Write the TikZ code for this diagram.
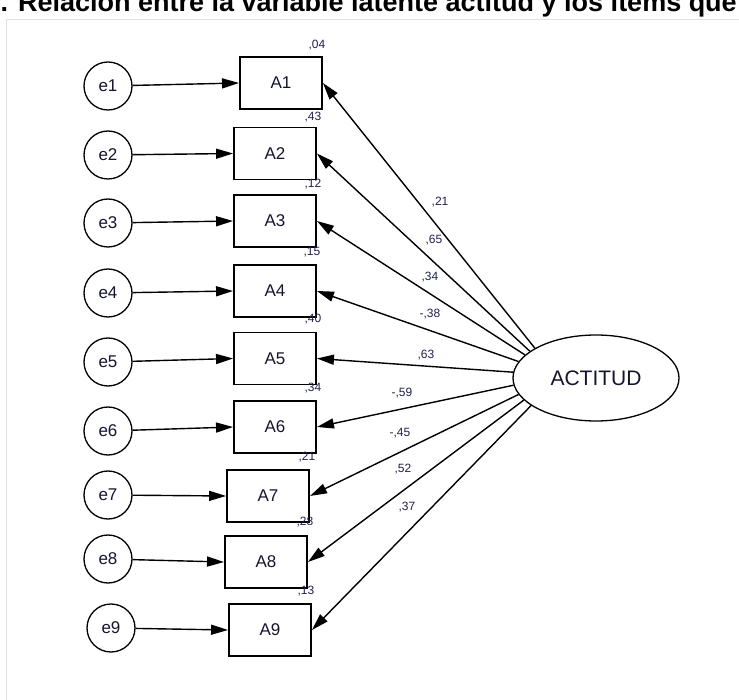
\documentclass[tikz,border=0pt]{standalone}
\usepackage{fontspec}
\setmainfont{Liberation Sans}
\usetikzlibrary{arrows.meta,shapes.geometric}
\definecolor{numc}{HTML}{202050}
\definecolor{txtc}{HTML}{151530}
\begin{document}
\begin{tikzpicture}[x=1pt,y=-1pt,
  lat/.style={draw,line width=1.3pt,circle,minimum size=48pt,inner sep=0pt,text=txtc,font=\fontsize{17}{20}\selectfont},
  obs/.style={draw,line width=1.9pt,rectangle,minimum width=82pt,minimum height=52pt,inner sep=0pt,text=txtc,font=\fontsize{17}{20}\selectfont},
  fac/.style={draw,line width=1.3pt,ellipse,minimum width=166pt,minimum height=86pt,inner sep=0pt,text=txtc,font=\fontsize{21}{24}\selectfont},
  arr/.style={line width=1.4pt,-{Triangle[length=17pt,width=10pt]}},
  num/.style={font=\fontsize{12}{14}\selectfont,inner sep=0pt,text=numc},
]
\useasboundingbox (0,0) rectangle (739,700);
\clip (0,0) rectangle (739,700);
\fill[white] (0,0) rectangle (739,700);
% title (cut off at top)
\node[anchor=base east,inner sep=0pt,font=\bfseries\fontsize{27}{30}\selectfont] (title) at (737,12) {1. Relación entre la variable latente actitud y los ítems que};
% frame
\draw[black!12,line width=1pt] (6,705) -- (6,20) -- (745,20);

% error terms
\node[lat] (e1) at (108,86) {e1};
\node[lat] (e2) at (108,155) {e2};
\node[lat] (e3) at (108,223) {e3};
\node[lat] (e4) at (108,293) {e4};
\node[lat] (e5) at (108,362) {e5};
\node[lat] (e6) at (108,431) {e6};
\node[lat] (e7) at (108,495) {e7};
\node[lat] (e8) at (108,559) {e8};
\node[lat] (e9) at (111,628) {e9};

% items
\node[obs] (A1) at (281,83) {A1};
\node[obs] (A2) at (275,153.5) {A2};
\node[obs] (A3) at (275,221) {A3};
\node[obs] (A4) at (275,291) {A4};
\node[obs] (A5) at (275,358.5) {A5};
\node[obs] (A6) at (275,427) {A6};
\node[obs] (A7) at (268,496) {A7};
\node[obs] (A8) at (266,562) {A8};
\node[obs] (A9) at (270,630) {A9};

% latent factor
\node[fac] (act) at (596,378) {ACTITUD};

% error arrows
\foreach \i in {1,...,9} \draw[arr] (e\i) -- (A\i.west);

% loading arrows
\draw[arr] (act.154) -- (A1.east);
\draw[arr] (act.158) -- (A2.east);
\draw[arr] (act.162) -- (A3.east);
\draw[arr] (act.168) -- (A4.east);
\draw[arr] (act.176) -- (A5.east);
\draw[arr] (act.185) -- (A6.east);
\draw[arr] (act.192) -- (A7.east);
\draw[arr] (act.197) -- (A8.east);
\draw[arr] (act.203) -- (A9.east);

% squared multiple correlations
\node[num] (r1) at (317,45) {,04};
\node[num] (r2) at (313,117) {,43};
\node[num] (r3) at (313,184) {,12};
\node[num] (r4) at (312,252) {,15};
\node[num] (r5) at (313,319) {,40};
\node[num] (r6) at (313,388) {,34};
\node[num] (r7) at (307,457) {,21};
\node[num] (r8) at (305,522) {,28};
\node[num] (r9) at (306,591) {,13};

% loadings
\node[num] (l1) at (440,202) {,21};
\node[num] (l2) at (434,240) {,65};
\node[num] (l3) at (430,277) {,34};
\node[num] (l4) at (430,314) {-,38};
\node[num] (l5) at (426,355) {,63};
\node[num] (l6) at (402,393) {-,59};
\node[num] (l7) at (400,433) {-,45};
\node[num] (l8) at (403,469) {,52};
\node[num] (l9) at (407,507) {,37};
\end{tikzpicture}
\end{document}
